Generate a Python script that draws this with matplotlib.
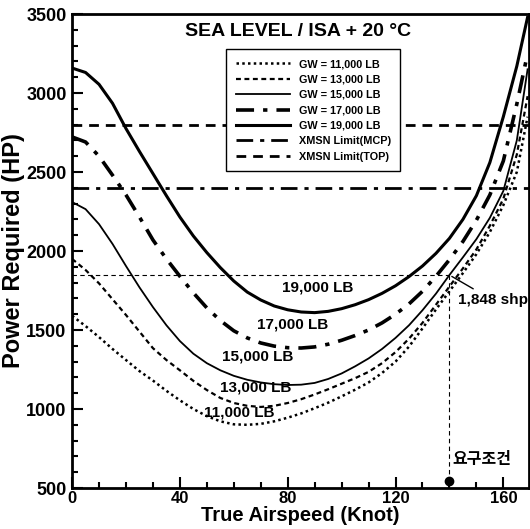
import numpy as np
import matplotlib.pyplot as plt
from matplotlib.ticker import MultipleLocator

plt.rcParams['font.family'] = ['Liberation Sans', 'Noto Sans CJK KR', 'DejaVu Sans']
plt.rcParams['font.weight'] = 'bold'

# values (knots, HP)
airspeed = [0, 5, 10, 15, 20, 25, 30, 35, 40, 45, 50, 55, 60, 65, 70, 75, 80, 85,
            90, 95, 100, 105, 110, 115, 120, 125, 130, 135, 140, 145, 150, 155, 160, 165, 169]
pr_11000 = [1590, 1525, 1455, 1380, 1310, 1240, 1180, 1115, 1055, 1000, 955, 922, 903, 900, 906, 922, 945, 972,
            1005, 1040, 1080, 1122, 1168, 1228, 1300, 1395, 1510, 1630, 1745, 1860, 1980, 2120, 2290, 2500, 2850]
pr_13000 = [1950, 1880, 1795, 1695, 1595, 1490, 1385, 1310, 1245, 1178, 1120, 1070, 1038, 1020, 1013, 1020, 1038, 1062,
            1092, 1125, 1160, 1195, 1235, 1290, 1360, 1445, 1545, 1660, 1775, 1890, 2010, 2160, 2330, 2610, 2980]
pr_15000 = [2310, 2265, 2170, 2045, 1905, 1770, 1645, 1530, 1430, 1350, 1290, 1245, 1210, 1185, 1168, 1157, 1152, 1154,
            1165, 1190, 1225, 1270, 1320, 1380, 1450, 1530, 1625, 1730, 1848, 1960, 2075, 2210, 2380, 2700, 3150]
pr_17000 = [2722, 2690, 2600, 2480, 2355, 2215, 2070, 1950, 1840, 1735, 1640, 1560, 1495, 1450, 1418, 1398, 1388, 1386,
            1393, 1410, 1435, 1465, 1500, 1545, 1600, 1665, 1745, 1840, 1945, 2060, 2195, 2355, 2570, 2930, 3250]
pr_19000 = [3158, 3130, 3055, 2935, 2775, 2630, 2490, 2350, 2215, 2095, 1990, 1895, 1810, 1740, 1690, 1652, 1628, 1614,
            1610, 1618, 1635, 1660, 1692, 1732, 1780, 1838, 1905, 1985, 2080, 2200, 2350, 2560, 2850, 3170, 3480]

mcp_limit = 2400
top_limit = 2800
req_speed = 140
req_power = 1848

legend_labels = ['GW = 11,000 LB', 'GW = 13,000 LB', 'GW = 15,000 LB', 'GW = 17,000 LB',
                 'GW = 19,000 LB', 'XMSN Limit(MCP)', 'XMSN Limit(TOP)']
curve_labels = ['11,000 LB', '13,000 LB', '15,000 LB', '17,000 LB', '19,000 LB']
label_pos = [(62, 975), (68, 1133), (69, 1330), (82, 1532), (91, 1772)]

fig = plt.figure(figsize=(5.30, 5.29), dpi=100)
ax = fig.add_axes([0.136, 0.0775, 0.862, 0.896])

l1, = ax.plot(airspeed, pr_11000, color='k', lw=1.8, linestyle=(0, (1, 1.3)))
l2, = ax.plot(airspeed, pr_13000, color='k', lw=1.6, linestyle=(0, (2.2, 1.6)))
l3, = ax.plot(airspeed, pr_15000, color='k', lw=1.3, linestyle='-')
l4, = ax.plot(airspeed, pr_17000, color='k', lw=2.6, linestyle=(0, (5, 2.5, 1.2, 2.5)))
l5, = ax.plot(airspeed, pr_19000, color='k', lw=2.2, linestyle='-')
l6 = ax.axhline(mcp_limit, color='k', lw=2.0, linestyle=(0, (6, 2.5, 1.5, 2.5)))
l7 = ax.axhline(top_limit, color='k', lw=2.0, linestyle=(0, (3.5, 2.5)))

# requirement lines
ax.plot([0, req_speed], [req_power, req_power], color='k', lw=0.8, linestyle=(0, (4, 3)))
ax.plot([req_speed, req_speed], [req_power, 545], color='k', lw=0.8, linestyle=(0, (4, 3)))
ax.plot([req_speed], [545], 'o', color='k', markersize=6)
ax.annotate('1,848 shp', xy=(req_speed, req_power), xytext=(143, 1690),
            fontsize=11, fontweight='bold', va='center',
            arrowprops=dict(arrowstyle='-', color='k', lw=1.0))
ax.text(141, 650, '요구조건', fontsize=11.5, fontweight='bold', family='Noto Sans CJK KR')

for txt, (x, y) in zip(curve_labels, label_pos):
    ax.text(x, y, txt, fontsize=11, fontweight='bold', ha='center', va='center')

ax.text(84, 3390, 'SEA LEVEL / ISA + 20 \u00b0C', fontsize=14, fontweight='bold', ha='center', va='center')

ax.legend([l1, l2, l3, l4, l5, l6, l7], legend_labels, loc='upper left',
          bbox_to_anchor=(0.325, 0.937), handlelength=5,
          labelspacing=0.5, fancybox=False, framealpha=1, edgecolor='k',
          borderpad=0.9, prop={'weight': 'bold', 'size': 7.8})

ax.set_xlim(0, 169.5)
ax.set_ylim(500, 3500)
ax.xaxis.set_major_locator(MultipleLocator(40))
ax.xaxis.set_minor_locator(MultipleLocator(10))
ax.yaxis.set_major_locator(MultipleLocator(500))
ax.yaxis.set_minor_locator(MultipleLocator(100))
ax.tick_params(which='both', direction='in', top=False, right=False, width=1.5)
ax.tick_params(which='major', length=8, pad=2)
ax.tick_params(axis='x', which='major', labelsize=12)
ax.tick_params(axis='y', which='major', labelsize=13, pad=4)
ax.tick_params(which='minor', length=4)
for s in ax.spines.values():
    s.set_linewidth(2)

ax.set_xlabel('True Airspeed (Knot)', fontsize=14.5, fontweight='bold', labelpad=0)
ax.set_ylabel('Power Required (HP)', fontsize=17, fontweight='bold', labelpad=1)

fig.savefig('out.png', dpi=100)
